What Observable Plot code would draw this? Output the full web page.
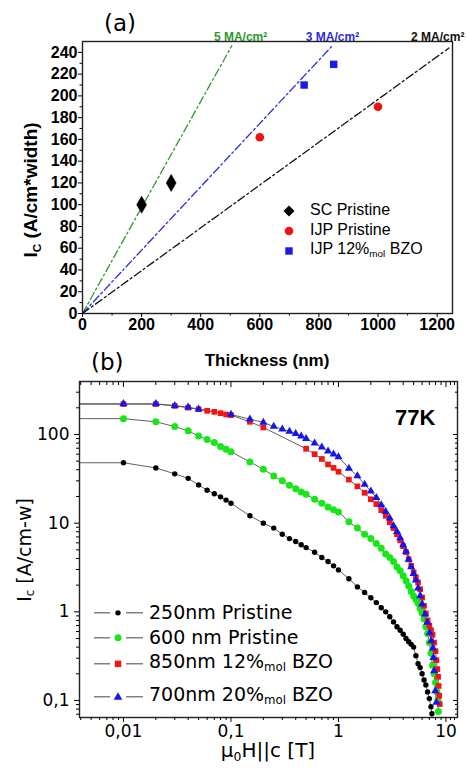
<!DOCTYPE html>
<html><head><meta charset="utf-8">
<script src="https://cdn.jsdelivr.net/npm/d3@7"></script>
<script src="https://cdn.jsdelivr.net/npm/@observablehq/plot@0.6"></script>
<style>
body{margin:0;background:#fff;}
#wrap{position:relative;width:467px;height:771px;overflow:hidden;background:#fff;}
#wrap svg.plot{position:absolute;left:0;}
.abs{position:absolute;white-space:nowrap;line-height:1;color:#000;}
.sub{font-size:0.62em;vertical-align:-0.3em;}
</style></head><body><div id="wrap"></div>
<script>
// ---------- Panel (a) data ----------
const scThickness = [200, 300];
const scIc = [100, 120];
const ijpThickness = [600, 1000];
const ijpIc = [162, 190];
const bzoThickness = [750, 850];
const bzoIc = [210, 229];
const jcLabels = ["5 MA/cm²", "3 MA/cm²", "2 MA/cm²"];
const jcLineEndThickness = [505, 845, 1240];
const jcLineEndIc = [246, 246, 244];
const jcLabelThickness = [535, 846, 1202];
const xTicksA = [0, 200, 400, 600, 800, 1000, 1200];
const xMinorA = [100, 300, 500, 700, 900, 1100];
const yTicksA = [0, 20, 40, 60, 80, 100, 120, 140, 160, 180, 200, 220, 240];
const yMinorA = [10, 30, 50, 70, 90, 110, 130, 150, 170, 190, 210, 230];

// ---------- Panel (b) data ----------
const seriesNames = ["250nm Pristine", "600 nm Pristine", "850nm 12%mol BZO", "700nm 20%mol BZO"];
const zeroFieldProxy = 0.001;
const fieldBlack = [0.01,0.02,0.03,0.04,0.05,0.06,0.07,0.08,0.09,0.1,0.15,0.2,0.25,0.3,0.35,0.4,0.45,0.5,0.6,0.7,0.8,0.9,1.0,
  1.25,1.5,1.75,2.0,2.25,2.5,2.75,3.0,3.25,3.5,3.75,4.0,4.25,4.5,4.75,5.0,5.25,5.5,5.75,6.0,6.25,6.5,6.75,7.0,7.25,7.4];
const icBlack = [48,42,36,32,27,23.5,21.5,19.8,18.2,16.8,12.1,10.0,8.8,7.5,6.7,6.2,5.7,5.3,4.7,4.1,3.7,3.3,2.97,
  2.36,1.91,1.65,1.44,1.27,1.11,1.0,0.88,0.77,0.68,0.62,0.56,0.50,0.46,0.43,0.40,0.32,0.26,0.235,0.2,0.17,0.15,0.125,0.105,0.085,0.071];
const fieldGreen = [0.01,0.02,0.03,0.04,0.05,0.06,0.07,0.08,0.09,0.1,0.15,0.2,0.25,0.3,0.35,0.4,0.45,0.5,0.6,0.7,0.8,0.9,1.0,
  1.25,1.5,1.75,2.0,2.25,2.5,2.75,3.0,3.25,3.5,3.75,4.0,4.25,4.5,4.75,5.0,5.25,5.5,5.75,6.0,6.25,6.5,6.75,7.0,7.25,7.5,7.75,8.0,8.25,8.4,8.5];
const icGreen = [151,139,123,110,96,88,81,73,68,64,49,40.6,34,30,26.8,24.5,22.5,21.2,18.6,16.8,15.2,14.2,13.4,
  10.4,8.8,7.5,6.7,5.9,5.2,4.5,4.1,3.7,3.2,2.9,2.55,2.24,1.95,1.7,1.51,1.38,1.25,1.1,0.97,0.83,0.68,0.57,0.45,0.34,0.25,0.2,0.16,0.125,0.1,0.075];
const fieldRed = [0.01,0.02,0.03,0.04,0.05,0.06,0.07,0.08,0.09,0.1,0.15,0.2,0.5,0.6,0.7,0.8,0.9,1.0,
  1.25,1.5,1.75,2.0,2.25,2.5,2.75,3.0,3.25,3.5,3.75,4.0,4.25,4.5,4.75,5.0,5.25,5.5,5.75,6.0,6.25,6.5,6.75,7.0,7.25,7.5,7.75,8.0,
  8.15,8.3,8.45,8.55,8.65,8.75];
const icRed = [220,220,210,201,193,185,180,174,168,165,139,120,69,60,53,46,42,38,
  31,26,22,18.6,16.4,14,12.1,10.2,8.8,7.5,6.4,5.5,4.7,3.9,3.3,2.8,2.45,2.15,1.8,1.45,1.17,0.96,0.8,0.7,0.62,0.55,0.45,0.36,
  0.285,0.226,0.185,0.146,0.113,0.091];
const fieldBlue = [0.01,0.02,0.03,0.04,0.05,0.1,0.15,0.2,0.25,0.3,0.35,0.4,0.45,0.5,0.6,0.7,0.8,0.9,1.0,
  1.25,1.5,1.75,2.0,2.25,2.5,2.75,3.0,3.25,3.5,3.75,4.0,4.25,4.5,4.75,5.0,5.25,5.5,5.75,6.0,
  6.4,6.7,7.05,7.3,7.55,7.65,7.75,7.95,8.15];
const icBlue = [222,222,212,203,193,168,149,137,123,115,108,102,96,90,80,72,65,60,56,
  41.5,34,27.3,23,19.4,16.1,13.5,11.4,9.3,8.0,6.8,5.7,4.8,3.9,3.2,2.7,2.28,1.85,1.51,1.22,
  0.94,0.76,0.58,0.47,0.39,0.305,0.216,0.128,0.095];
const xTicksB = [0.01, 0.1, 1, 10];
const yTicksB = [0.1, 1, 10, 100];

// ---------- build ----------
const wrap = document.getElementById("wrap");
const boldFont = '"Liberation Sans", Arial, sans-serif';
const dvFont = '"DejaVu Sans", sans-serif';
const jcColors = ["#2e9a2e", "#2b2be0", "#111111"];

const fitRows = jcLabels.flatMap((lab, i) => [
  {lab, t: 0, ic: 0},
  {lab, t: jcLineEndThickness[i], ic: jcLineEndIc[i]}
]);
const toRows = (xs, ys) => xs.map((x, i) => ({x, y: ys[i]}));
const blank = () => "";
const plain = d => String(d);

const plotA = Plot.plot({
  width: 467, height: 345,
  marginTop: 41, marginLeft: 82, marginRight: 15, marginBottom: 32,
  x: {domain: [0, 1252]},
  y: {domain: [0, 250]},
  color: {domain: jcLabels, range: jcColors},
  style: {fontFamily: boldFont, fontSize: "16px", fontWeight: "bold", color: "#000", background: "transparent", overflow: "visible"},
  marks: [
    Plot.line(fitRows, {x: "t", y: "ic", z: "lab", stroke: "lab", strokeWidth: 1.3, strokeDasharray: "8,3,2,3"}),
    Plot.text(jcLabels, {x: jcLabelThickness, text: d => d, fill: (d) => d, frameAnchor: "top", dy: -9, fontSize: 12, fontWeight: "bold"}),
    Plot.dot(toRows(scThickness, scIc), {x: "x", y: "y", symbol: "diamond", r: 5.2, fill: "#000", stroke: "#000", strokeWidth: 0.5}),
    Plot.dot(toRows(ijpThickness, ijpIc), {x: "x", y: "y", symbol: "circle", r: 4.3, fill: "#f21010"}),
    Plot.dot(toRows(bzoThickness, bzoIc), {x: "x", y: "y", symbol: "square", r: 4.2, fill: "#1a1aee"}),
    Plot.frame({stroke: "#222", strokeWidth: 1.4}),
    Plot.axisY({ticks: yTicksA, tickSize: 4, tickPadding: 1, tickFormat: plain, label: null, fontSize: 16, fontWeight: "bold"}),
    Plot.axisY({ticks: yMinorA, tickSize: 2.5, tickFormat: blank, label: null}),
    Plot.axisX({ticks: xTicksA, tickSize: 4, tickPadding: 1, tickFormat: plain, label: null, fontSize: 16, fontWeight: "bold"}),
    Plot.axisX({ticks: xMinorA, tickSize: 2.5, tickFormat: blank, label: null})
  ]
});
plotA.classList.add("plot");
plotA.style.top = "0px";
wrap.appendChild(plotA);

// panel (b)
const xDomB = [0.0039, 12.8], yDomB = [0.0643, 396];
const inDom = (v, d) => v >= d[0] && v <= d[1];
const xMinorB = [0.001, 0.01, 0.1, 1, 10].flatMap(p => [2,3,4,5,6,7,8,9].map(m => +(m * p).toPrecision(3))).concat([11, 12]).filter(v => inDom(v, xDomB) && !xTicksB.includes(v));
const yMinorB = [0.01, 0.1, 1, 10, 100].flatMap(p => [2,3,4,5,6,7,8,9].map(m => +(m * p).toPrecision(3))).filter(v => inDom(v, yDomB) && !yTicksB.includes(v));
const fmtComma = d => String(d).replace(".", ",");

const pts = [
  {xs: fieldBlack, ys: icBlack},
  {xs: fieldGreen, ys: icGreen},
  {xs: fieldRed, ys: icRed},
  {xs: fieldBlue, ys: icBlue}
];
const lineRows = pts.flatMap((p, k) => [{s: k, x: zeroFieldProxy, y: p.ys[0]}, ...p.xs.map((x, i) => ({s: k, x, y: p.ys[i]}))]);

const plotB = Plot.plot({
  width: 467, height: 426,
  marginTop: 36, marginLeft: 79, marginRight: 10, marginBottom: 54,
  x: {type: "log", domain: xDomB},
  y: {type: "log", domain: yDomB},
  style: {fontFamily: dvFont, fontSize: "16px", color: "#000", background: "transparent", overflow: "visible"},
  marks: [
    Plot.line(lineRows, {x: "x", y: "y", z: "s", stroke: "#505050", strokeWidth: 0.9, clip: true}),
    Plot.dot(toRows(fieldBlack, icBlack), {x: "x", y: "y", r: 2.7, fill: "#000"}),
    Plot.dot(toRows(fieldGreen, icGreen), {x: "x", y: "y", r: 3.5, fill: "#19e619"}),
    Plot.dot(toRows(fieldRed, icRed), {x: "x", y: "y", symbol: "square", r: 3.2, fill: "#f51414"}),
    Plot.dot(toRows(fieldBlue, icBlue), {x: "x", y: "y", symbol: "triangle", r: 3.0, fill: "#1414f0"}),
    Plot.frame({stroke: "#222", strokeWidth: 1.4}),
    Plot.axisX({ticks: xTicksB, tickSize: 5, tickPadding: 2, tickFormat: fmtComma, label: null, fontSize: 17}),
    Plot.axisX({ticks: xMinorB, tickSize: 3, tickFormat: blank, label: null}),
    Plot.axisX({anchor: "top", ticks: xTicksB, tickSize: -5, tickFormat: blank, label: null}),
    Plot.axisX({anchor: "top", ticks: xMinorB, tickSize: -3, tickFormat: blank, label: null}),
    Plot.axisY({ticks: yTicksB, tickSize: 5, tickPadding: 5, tickFormat: fmtComma, label: null, fontSize: 17}),
    Plot.axisY({ticks: yMinorB, tickSize: 3, tickFormat: blank, label: null}),
    Plot.axisY({anchor: "right", ticks: yTicksB, tickSize: -5, tickFormat: blank, label: null}),
    Plot.axisY({anchor: "right", ticks: yMinorB, tickSize: -3, tickFormat: blank, label: null})
  ]
});
plotB.classList.add("plot");
plotB.style.top = "345px";
wrap.appendChild(plotB);

// ---------- text overlays ----------
function addText(html, css) {
  const d = document.createElement("div");
  d.className = "abs";
  d.innerHTML = html;
  Object.assign(d.style, css);
  wrap.appendChild(d);
  return d;
}
addText("(a)", {left: "104px", top: "23px", transform: "translateY(-50%)", fontFamily: dvFont, fontSize: "23px"});
addText("Thickness (nm)", {left: "267px", top: "360px", transform: "translate(-50%,-50%)", fontFamily: boldFont, fontWeight: "bold", fontSize: "17px"});
addText('I<span class="sub">C</span> (A/cm*width)', {left: "32px", top: "190px", transform: "translate(-50%,-50%) rotate(-90deg)", fontFamily: boldFont, fontWeight: "bold", fontSize: "19px"});

// legend (a)
const legA = [
  {label: "SC Pristine", sym: '<path d="M6,0.5 L11.5,6 L6,11.5 L0.5,6 Z" fill="#000"/>'},
  {label: "IJP Pristine", sym: '<circle cx="6" cy="6" r="4.3" fill="#f21010"/>'},
  {label: 'IJP 12%<span class="sub">mol</span> BZO', sym: '<rect x="2.3" y="2.3" width="7.4" height="7.4" fill="#1a1aee"/>'}
];
const legAy = [210, 230, 250];
legA.forEach((e, i) => {
  addText(`<svg width="12" height="12" style="vertical-align:middle">${e.sym}</svg>`, {left: "283px", top: legAy[i] + "px", transform: "translateY(-50%)"});
  addText(e.label, {left: "310px", top: legAy[i] + "px", transform: "translateY(-50%)", fontFamily: boldFont, fontSize: "16px"});
});

addText("(b)", {left: "91px", top: "362px", transform: "translateY(-50%)", fontFamily: dvFont, fontSize: "23px"});
addText("77K", {left: "395px", top: "418px", transform: "translateY(-50%)", fontFamily: boldFont, fontWeight: "bold", fontSize: "22px"});
addText('I<span class="sub">c</span> [A/cm-w]', {left: "26px", top: "550px", transform: "translate(-50%,-50%) rotate(-90deg)", fontFamily: dvFont, fontSize: "19px"});
addText('μ<span class="sub">0</span>H||c [T]', {left: "268px", top: "752px", transform: "translate(-50%,-50%)", fontFamily: dvFont, fontSize: "20px"});

// legend (b)
const legBsym = [
  '<circle cx="24" cy="7" r="2.7" fill="#000"/>',
  '<circle cx="24" cy="7" r="3.5" fill="#19e619"/>',
  '<rect x="20.8" y="3.8" width="6.4" height="6.4" fill="#f51414"/>',
  '<path d="M24,2.5 L28.3,10 L19.7,10 Z" fill="#1414f0"/>'
];
const legBlabels = ["250nm Pristine", "600 nm Pristine", '850nm 12%<span class="sub">mol</span> BZO', '700nm 20%<span class="sub">mol</span> BZO'];
const legBy = [612, 637, 663, 696];
legBlabels.forEach((lab, i) => {
  addText(`<svg width="49" height="14" style="vertical-align:middle"><line x1="0" x2="16" y1="7" y2="7" stroke="#444" stroke-width="1"/><line x1="32" x2="49" y1="7" y2="7" stroke="#444" stroke-width="1"/>${legBsym[i]}</svg>`,
    {left: "94px", top: legBy[i] + "px", transform: "translateY(-50%)"});
  addText(lab, {left: "149px", top: legBy[i] + "px", transform: "translateY(-50%)", fontFamily: dvFont, fontSize: "19px"});
});
</script>
</body></html>
